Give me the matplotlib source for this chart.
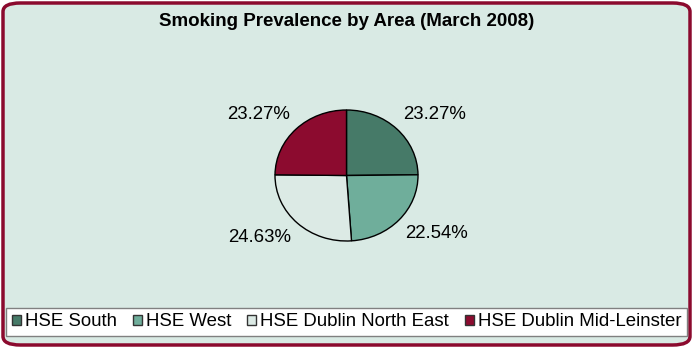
import numpy as np
import matplotlib.pyplot as plt
from matplotlib.patches import FancyBboxPatch

plt.rcParams['font.family'] = ['Liberation Sans', 'DejaVu Sans']

# data
areas = ['HSE South', 'HSE West', 'HSE Dublin North East', 'HSE Dublin Mid-Leinster']
prevalence = [23.27, 22.54, 24.63, 23.27]
colors = ['#467a68', '#6fae9b', '#dceae5', '#8c0b2f']

W, H = 693, 348
fig = plt.figure(figsize=(W / 100, H / 100), dpi=100)
fig.patch.set_facecolor('white')

# rounded chart-area frame
frame = FancyBboxPatch((3 / W, 3 / H), 687 / W, 342 / H,
                       boxstyle='round,pad=0,rounding_size=0.025',
                       transform=fig.transFigure, facecolor='#d9eae4',
                       edgecolor='#8b0a2e', linewidth=2.5, zorder=-5)
fig.patches.append(frame)

fig.text(0.5, 1 - 21 / H, 'Smoking Prevalence by Area (March 2008)',
         ha='center', va='center', fontsize=13.5, fontweight='bold')

# pie axes (slightly squashed like the original)
ax = fig.add_axes([275 / W, 1 - 241 / H, 143 / W, 131 / H])
ax.set_zorder(2)
wedges, _ = ax.pie(prevalence, colors=colors, startangle=90, counterclock=False,
                   wedgeprops=dict(edgecolor='black', linewidth=1.0))
ax.set_aspect('auto')
ax.set_xlim(-1, 1)
ax.set_ylim(-1, 1)
ax.axis('off')

# percentage labels outside each wedge
for w, v in zip(wedges, prevalence):
    theta = np.deg2rad((w.theta1 + w.theta2) / 2)
    x, y = 1.12 * np.cos(theta), 1.12 * np.sin(theta)
    ax.text(x, y, f'{v:.2f}%', fontsize=13.4,
            ha='left' if x > 0 else 'right',
            va='bottom' if y > 0 else 'top', clip_on=False)

leg = fig.legend(wedges, areas, loc='center', ncol=4,
                 bbox_to_anchor=(346.5 / W, 1 - 322 / H),
                 fontsize=13.4, frameon=True, fancybox=False, framealpha=1,
                 handlelength=0.5, handleheight=0.5, handletextpad=0.2,
                 columnspacing=0.85, borderpad=0.3, borderaxespad=0)
leg.get_frame().set_edgecolor('#808080')
leg.get_frame().set_linewidth(1.0)
leg.get_frame().set_facecolor('white')
for h in leg.legend_handles:
    h.set_edgecolor('#333333')
    h.set_linewidth(1.0)

fig.savefig('out.png', dpi=100)
